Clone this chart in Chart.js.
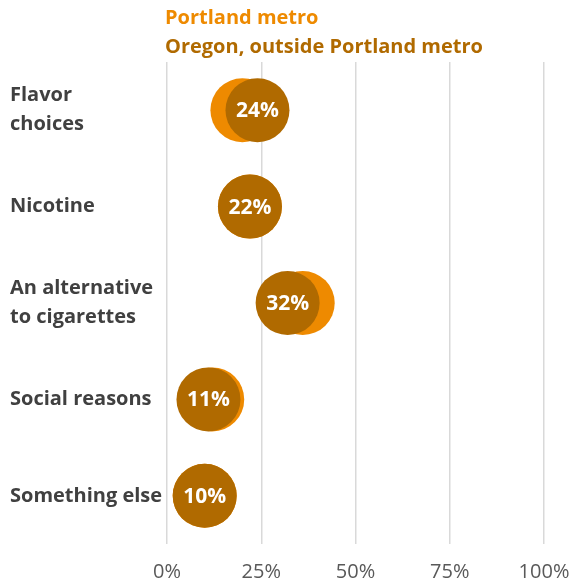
<!DOCTYPE html>
<html>
<head>
<meta charset="utf-8">
<script src="https://cdn.jsdelivr.net/npm/chart.js@4.4.1/dist/chart.umd.min.js"></script>
<style>
    html, body { margin: 0; padding: 0; background: #fff; }
    #wrap { width: 570px; height: 586px; }
</style>
</head>
<body>
<div id="wrap"><canvas id="reasons"></canvas></div>
<script>
const categories = [
    ['Flavor', 'choices'],
    'Nicotine',
    ['An alternative', 'to cigarettes'],
    'Social reasons',
    'Something else',
];
const portlandValues = [20, 22, 36, 12, 10];
const oregonValues = [24, 22, 32, 11, 10];
const xTicks = [0, 25, 50, 75, 100];

const ORANGE = '#EE8A00';
const BROWN = '#B06A00';
const FONT = '"Open Sans", sans-serif';

// coloured text legend, one row per series, aligned with the plot area
const textLegend = {
    id: 'textLegend',
    afterDraw(chart) {
        const ctx = chart.ctx;
        const left = chart.chartArea.left - 2;
        ctx.save();
        ctx.font = 'bold 20px ' + FONT;
        ctx.textBaseline = 'middle';
        ctx.textAlign = 'left';
        chart.data.datasets.forEach((ds, i) => {
            ctx.fillStyle = ds.backgroundColor;
            ctx.fillText(ds.label, left, 18 + i * 29);
        });
        ctx.restore();
    },
};

// value labels on top of the outside-Portland dots
const dotLabels = {
    id: 'dotLabels',
    afterDatasetsDraw(chart) {
        const ctx = chart.ctx;
        const meta = chart.getDatasetMeta(1);
        const values = chart.data.datasets[1].data;
        ctx.save();
        ctx.font = 'bold 21px ' + FONT;
        ctx.fillStyle = '#fff';
        ctx.textAlign = 'center';
        ctx.textBaseline = 'middle';
        meta.data.forEach((pt, i) => {
            ctx.fillText(values[i] + '%', pt.x, pt.y + 1);
        });
        ctx.restore();
    },
};

const ctx = document.querySelector('#reasons').getContext('2d');
new Chart(ctx, {
    type: 'line',
    data: {
        labels: categories,
        datasets: [
            {
                label: 'Portland metro',
                data: portlandValues,
                backgroundColor: ORANGE,
                borderColor: ORANGE,
                order: 1,
            },
            {
                label: 'Oregon, outside Portland metro',
                data: oregonValues,
                backgroundColor: BROWN,
                borderColor: BROWN,
                order: 0,
            },
        ],
    },
    options: {
        indexAxis: 'y',
        responsive: true,
        maintainAspectRatio: false,
        animation: false,
        showLine: false,
        elements: {
            point: { radius: 32, hoverRadius: 32, borderWidth: 0 },
        },
        layout: {
            autoPadding: false,
            padding: { top: 62, left: 10, right: 26, bottom: 2 },
        },
        plugins: {
            legend: { display: false },
            tooltip: { enabled: false },
        },
        scales: {
            x: {
                type: 'linear',
                min: 0,
                max: 100,
                afterBuildTicks(scale) {
                    scale.ticks = xTicks.map((v) => ({ value: v }));
                },
                afterFit(scale) {
                    scale.height = 40;
                    scale.paddingLeft = 0;
                    scale.paddingRight = 0;
                },
                grid: {
                    color: '#D9D9D9',
                    lineWidth: 1.5,
                    drawTicks: false,
                    tickLength: 0,
                },
                border: { display: false },
                ticks: {
                    padding: 16,
                    color: '#595959',
                    font: { family: FONT, size: 20 },
                    callback: (v) => v + '%',
                },
            },
            y: {
                type: 'category',
                offset: true,
                grid: { display: false, tickLength: 0 },
                border: { display: false },
                afterFit(scale) {
                    scale.width = 157;
                    scale.paddingTop = 0;
                    scale.paddingBottom = 0;
                },
                ticks: {
                    crossAlign: 'far',
                    padding: 0,
                    color: '#404040',
                    font: { family: FONT, size: 20, weight: 'bold', lineHeight: 1.45 },
                },
            },
        },
    },
    plugins: [textLegend, dotLabels],
});
</script>
</body>
</html>
